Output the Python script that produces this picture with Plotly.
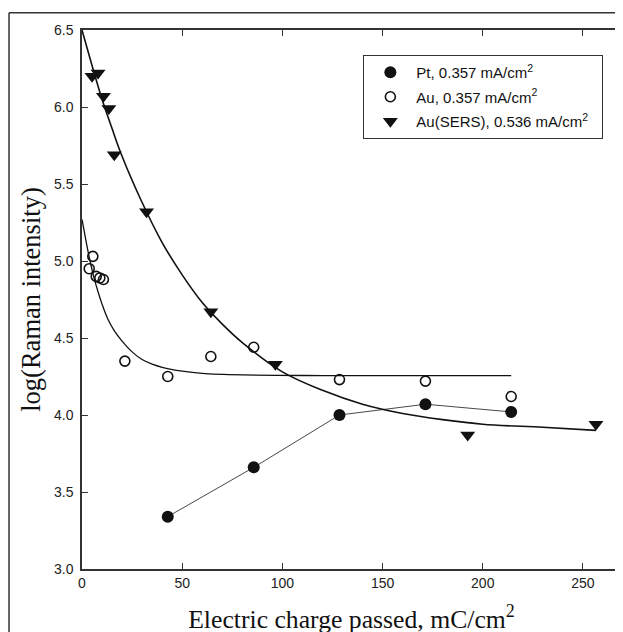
import plotly.graph_objects as go

# ---- data ----
pt_x = [42.8, 85.7, 128.5, 171.4, 214.2]
pt_y = [3.34, 3.66, 4.00, 4.07, 4.02]

au_x = [3.6, 5.4, 7.1, 8.9, 10.7, 21.4, 42.8, 64.3, 85.7, 128.5, 171.4, 214.2]
au_y = [4.95, 5.03, 4.90, 4.89, 4.88, 4.35, 4.25, 4.38, 4.44, 4.23, 4.22, 4.12]

sers_x = [5.0, 8.0, 10.7, 13.4, 16.1, 32.2, 64.3, 96.5, 192.5, 256.5]
sers_y = [6.20, 6.22, 6.07, 5.99, 5.69, 5.32, 4.67, 4.33, 3.87, 3.94]

# fitted curves
au_fit_x = [0, 2, 4, 6, 8, 10, 13, 16, 20, 25, 30, 35, 40, 50, 60, 80, 120, 214.2]
au_fit_y = [5.27, 5.13, 5.00, 4.89, 4.80, 4.72, 4.62, 4.55, 4.48, 4.41, 4.36, 4.33,
            4.31, 4.285, 4.27, 4.26, 4.256, 4.256]

sers_fit_x = [0, 5, 10, 15, 20, 30, 40, 50, 60, 70, 80, 100, 120, 140, 160, 180,
              200, 230, 256.5]
sers_fit_y = [6.50, 6.27, 6.05, 5.86, 5.68, 5.38, 5.12, 4.91, 4.73, 4.59, 4.47, 4.28,
              4.16, 4.07, 4.01, 3.97, 3.94, 3.92, 3.90]

x_ticks = [0, 50, 100, 150, 200, 250]
y_ticks = [3.0, 3.5, 4.0, 4.5, 5.0, 5.5, 6.0, 6.5]

legend_names = ["Pt, 0.357 mA/cm<sup>2</sup>",
                "Au, 0.357 mA/cm<sup>2</sup>",
                "Au(SERS), 0.536 mA/cm<sup>2</sup>\u00a0\u00a0"]

INK = "#111111"
AX = "#333333"

fig = go.Figure()

# lines first (no legend)
fig.add_trace(go.Scatter(x=pt_x, y=pt_y, mode="lines",
                         line=dict(color="#333333", width=0.9),
                         showlegend=False, hoverinfo="skip"))
fig.add_trace(go.Scatter(x=au_fit_x, y=au_fit_y, mode="lines",
                         line=dict(color=INK, width=1.3, shape="spline", smoothing=1.0),
                         showlegend=False, hoverinfo="skip"))
fig.add_trace(go.Scatter(x=sers_fit_x, y=sers_fit_y, mode="lines",
                         line=dict(color=INK, width=1.6, shape="spline", smoothing=1.0),
                         showlegend=False, hoverinfo="skip"))

# markers
fig.add_trace(go.Scatter(x=pt_x, y=pt_y, mode="markers", name=legend_names[0],
                         legendgroup="g1",
                         marker=dict(symbol="circle", size=12, color=INK)))
fig.add_trace(go.Scatter(x=au_x, y=au_y, mode="markers", name=legend_names[1],
                         legendgroup="g2",
                         marker=dict(symbol="circle-open", size=10, color=INK,
                                     line=dict(width=1.6, color=INK))))
fig.add_trace(go.Scatter(x=sers_x, y=sers_y, mode="markers", name=legend_names[2],
                         legendgroup="g3",
                         marker=dict(symbol="triangle-down", size=13, color=INK)))

tick_font = dict(family="Liberation Sans, Arial, sans-serif", size=14, color="#222222")
xtitle_font = dict(family="Liberation Serif, Times New Roman, serif", size=25.7, color=INK)
ytitle_font = dict(family="Liberation Serif, Times New Roman, serif", size=26.5, color=INK)

# the page body adds an 8px offset; margins are set so the plot box lands
# where it is in the reference
fig.update_layout(
    width=623, height=632,
    margin=dict(l=74, r=10, t=22, b=71, autoexpand=False),
    paper_bgcolor="white", plot_bgcolor="white",
    showlegend=True,
    legend=dict(x=0.522, y=0.9536, xanchor="left", yanchor="top",
                bgcolor="white", bordercolor=AX, borderwidth=1,
                font=dict(family="Liberation Sans, Arial, sans-serif", size=15, color=INK),
                itemwidth=42, tracegroupgap=2),
    xaxis=dict(range=[0, 269], tickvals=x_ticks, ticktext=[str(v) for v in x_ticks],
               ticks="inside", ticklen=6, tickwidth=1, tickcolor=AX,
               showline=True, linecolor=AX, linewidth=1.5, mirror="ticks",
               showgrid=False, zeroline=False, tickfont=tick_font,
               title=dict(text="Electric charge passed, mC/cm<sup>2</sup>",
                          font=xtitle_font, standoff=20),
               automargin=False),
    yaxis=dict(range=[3.0, 6.5], tickvals=y_ticks,
               ticktext=["%.1f" % v for v in y_ticks],
               ticks="inside", ticklen=6, tickwidth=1, tickcolor=AX,
               ticklabelstandoff=4,
               showline=True, linecolor=AX, linewidth=1.5, mirror="ticks",
               showgrid=False, zeroline=False, tickfont=tick_font,
               title=dict(text="\u00a0\u00a0\u00a0log(Raman intensity)",
                          font=ytitle_font, standoff=6),
               automargin=False),
    shapes=[
        dict(type="line", xref="paper", yref="paper",
             x0=-0.1354, x1=-0.1354, y0=-0.2, y1=1.032,
             line=dict(color=AX, width=1.5), layer="above"),
        dict(type="line", xref="paper", yref="paper",
             x0=-0.1354, x1=1.05, y0=1.032, y1=1.032,
             line=dict(color=AX, width=1.5), layer="above"),
    ],
)

fig.write_html("out.html")
